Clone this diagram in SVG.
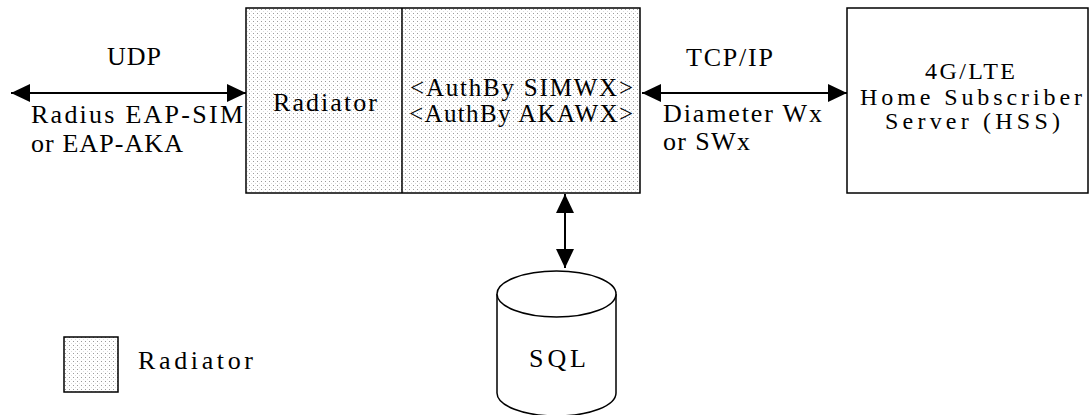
<svg xmlns="http://www.w3.org/2000/svg" width="1090" height="415" viewBox="0 0 1090 415">
  <style>
    text { font-family: "Liberation Serif", "Times New Roman", serif; font-size: 26px; fill: #000; }
    .hss { font-size: 24px; }
    .auth { font-size: 25px; }
    .box { stroke: #000; stroke-width: 1.5; }
    .dotted { fill: url(#dots); }
    .plain { fill: #fff; }
    .conn { stroke: #000; stroke-width: 2; fill: none; marker-start: url(#ah); marker-end: url(#ah); }
  </style>
  <defs>
    <pattern id="dots" patternUnits="userSpaceOnUse" width="4" height="4">
      <rect width="4" height="4" fill="#fff"/>
      <rect x="1" y="1" width="1" height="1" fill="#9a9a9a"/>
      <rect x="3" y="3" width="1" height="1" fill="#dcdcdc"/>
    </pattern>
    <marker id="ah" viewBox="0 0 19 18" refX="19" refY="9" markerWidth="19" markerHeight="18" markerUnits="userSpaceOnUse" orient="auto-start-reverse">
      <path d="M0,0 L19,9 L0,18 Z" fill="#000"/>
    </marker>
  </defs>

  <g id="connectors">
    <line class="conn" x1="11" y1="93" x2="246" y2="93"/>
    <line class="conn" x1="642" y1="93" x2="847" y2="93"/>
    <line class="conn" x1="565" y1="194" x2="565" y2="268"/>
    <text x="107" y="65" textLength="54" lengthAdjust="spacing">UDP</text>
    <text x="31" y="123" textLength="212" lengthAdjust="spacing">Radius EAP-SIM</text>
    <text x="31" y="152" textLength="152" lengthAdjust="spacing">or EAP-AKA</text>
    <text x="686" y="66" textLength="87" lengthAdjust="spacing">TCP/IP</text>
    <text x="663" y="122" textLength="159" lengthAdjust="spacing">Diameter Wx</text>
    <text x="663" y="150" textLength="87" lengthAdjust="spacing">or SWx</text>
  </g>

  <g id="radiator">
    <rect class="box dotted" x="246" y="8" width="394" height="185"/>
    <line class="box" x1="402" y1="8" x2="402" y2="193"/>
    <text x="273" y="111" textLength="104" lengthAdjust="spacing">Radiator</text>
    <text class="auth" x="410" y="96" textLength="223" lengthAdjust="spacing">&lt;AuthBy SIMWX&gt;</text>
    <text class="auth" x="409" y="122" textLength="224" lengthAdjust="spacing">&lt;AuthBy AKAWX&gt;</text>
  </g>

  <g id="hss">
    <rect class="box plain" x="847" y="8" width="241" height="185"/>
    <text class="hss" x="925" y="79" textLength="90" lengthAdjust="spacing">4G/LTE</text>
    <text class="hss" x="860" y="105" textLength="222" lengthAdjust="spacing">Home Subscriber</text>
    <text class="hss" x="885" y="129" textLength="175" lengthAdjust="spacing">Server (HSS)</text>
  </g>

  <g id="sql">
    <path class="box plain" d="M497,294 L497,393 A59.5,23 0 0 0 616,393 L616,294"/>
    <ellipse class="box plain" cx="556.5" cy="294" rx="59.5" ry="23"/>
    <text x="529" y="367" textLength="57" lengthAdjust="spacing">SQL</text>
  </g>

  <g id="legend">
    <rect class="box dotted" x="64" y="337" width="54" height="55" stroke-width="2"/>
    <text x="138" y="369" textLength="115" lengthAdjust="spacing">Radiator</text>
  </g>
</svg>
